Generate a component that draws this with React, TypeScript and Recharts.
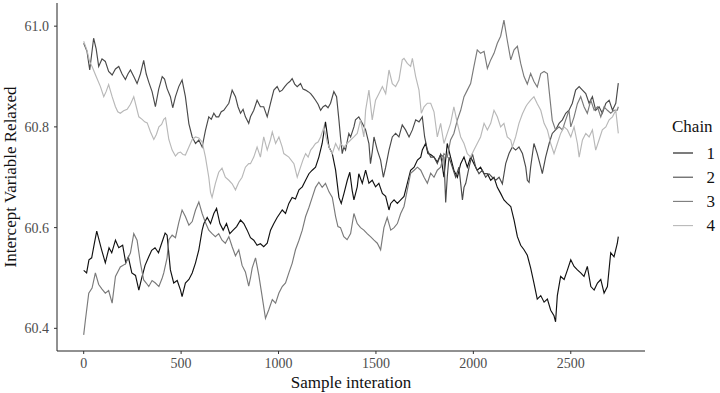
import React from "react";
import { LineChart, Line, XAxis, YAxis } from "recharts";

// [iteration, value] pairs
const chain1: [number, number][] = [
  [0,60.515],[15,60.51],[27,60.536],[41,60.54],[55,60.569],[67,60.593],[79,60.575],[92,60.556],[111,60.53],[130,60.56],
  [144,60.55],[163,60.575],[180,60.56],[200,60.565],[216,60.53],[229,60.542],[247,60.51],[266,60.505],[283,60.476],[298,60.5],
  [315,60.525],[334,60.542],[349,60.555],[366,60.56],[384,60.55],[401,60.57],[418,60.589],[428,60.585],[445,60.516],[462,60.49],
  [480,60.495],[497,60.476],[505,60.463],[522,60.49],[540,60.497],[557,60.51],[574,60.53],[591,60.556],[608,60.595],[617,60.608],
  [634,60.62],[651,60.608],[668,60.628],[682,60.638],[699,60.608],[716,60.595],[733,60.608],[750,60.588],[767,60.595],[785,60.602],
  [805,60.615],[822,60.608],[839,60.595],[856,60.58],[873,60.575],[890,60.565],[907,60.568],[924,60.562],[942,60.569],[959,60.595],
  [976,60.608],[993,60.62],[1019,60.635],[1036,60.628],[1053,60.648],[1070,60.66],[1087,60.657],[1105,60.675],[1122,60.681],[1139,60.694],
  [1156,60.707],[1173,60.714],[1190,60.72],[1207,60.74],[1224,60.767],[1241,60.81],[1259,60.76],[1276,60.747],[1293,60.714],[1310,60.66],
  [1322,60.648],[1336,60.668],[1353,60.694],[1366,60.71],[1378,60.674],[1387,60.655],[1404,60.681],[1412,60.707],[1430,60.688],[1447,60.714],
  [1464,60.688],[1481,60.694],[1498,60.681],[1515,60.688],[1533,60.668],[1550,60.662],[1567,60.635],[1576,60.648],[1593,60.655],[1610,60.648],
  [1627,60.655],[1644,60.662],[1661,60.688],[1678,60.714],[1696,60.72],[1713,60.734],[1730,60.74],[1738,60.754],[1755,60.767],[1767,60.747],
  [1781,60.745],[1798,60.74],[1815,60.73],[1832,60.745],[1849,60.7],[1866,60.767],[1883,60.74],[1900,60.714],[1918,60.7],[1935,60.727],
  [1952,60.74],[1969,60.72],[1986,60.74],[2003,60.727],[2020,60.714],[2037,60.72],[2055,60.707],[2072,60.707],[2089,60.694],[2106,60.7],
  [2123,60.68],[2140,60.668],[2157,60.655],[2174,60.648],[2192,60.642],[2209,60.615],[2226,60.582],[2243,60.565],[2260,60.556],[2277,60.545],
  [2294,60.52],[2311,60.49],[2328,60.458],[2346,60.465],[2363,60.452],[2380,60.458],[2397,60.436],[2414,60.425],[2422,60.413],[2431,60.465],
  [2448,60.503],[2466,60.497],[2483,60.516],[2500,60.536],[2517,60.523],[2534,60.516],[2551,60.51],[2568,60.503],[2585,60.523],[2603,60.483],
  [2620,60.476],[2637,60.49],[2654,60.497],[2671,60.47],[2688,60.483],[2705,60.55],[2722,60.542],[2739,60.569],[2744,60.582]
];

const chain2: [number, number][] = [
  [0,60.966],[17,60.95],[31,60.913],[51,60.976],[64,60.955],[77,60.92],[94,60.935],[111,60.93],[128,60.91],[146,60.903],
  [163,60.915],[180,60.92],[197,60.905],[214,60.894],[227,60.905],[240,60.913],[257,60.9],[274,60.886],[291,60.905],[308,60.932],
  [321,60.905],[334,60.889],[351,60.87],[368,60.84],[385,60.875],[403,60.9],[415,60.895],[428,60.876],[445,60.86],[457,60.838],
  [471,60.86],[488,60.88],[505,60.893],[522,60.86],[540,60.806],[557,60.78],[574,60.767],[591,60.774],[608,60.76],[625,60.793],
  [642,60.82],[655,60.815],[668,60.827],[680,60.82],[693,60.82],[706,60.83],[719,60.833],[732,60.84],[745,60.847],[762,60.873],
  [779,60.86],[792,60.84],[805,60.827],[818,60.835],[830,60.82],[847,60.807],[856,60.82],[873,60.833],[890,60.853],[907,60.84],
  [924,60.84],[942,60.82],[959,60.847],[976,60.873],[993,60.88],[1006,60.87],[1019,60.873],[1032,60.88],[1045,60.886],[1058,60.89],
  [1070,60.896],[1083,60.885],[1096,60.88],[1113,60.886],[1126,60.875],[1139,60.873],[1152,60.87],[1165,60.866],[1177,60.86],[1190,60.853],
  [1203,60.845],[1216,60.833],[1229,60.84],[1241,60.843],[1254,60.838],[1267,60.847],[1284,60.87],[1298,60.86],[1310,60.814],[1318,60.78],
  [1327,60.747],[1335,60.76],[1344,60.754],[1352,60.77],[1361,60.787],[1370,60.78],[1387,60.8],[1395,60.814],[1412,60.82],[1430,60.807],
  [1447,60.794],[1464,60.767],[1472,60.727],[1481,60.75],[1490,60.78],[1507,60.754],[1524,60.734],[1538,60.7],[1550,60.72],[1567,60.754],
  [1584,60.78],[1601,60.787],[1618,60.78],[1635,60.804],[1652,60.794],[1670,60.78],[1687,60.794],[1704,60.814],[1721,60.81],[1738,60.82],
  [1750,60.78],[1764,60.754],[1781,60.74],[1798,60.74],[1815,60.727],[1832,60.745],[1849,60.74],[1858,60.65],[1866,60.7],[1875,60.74],
  [1892,60.72],[1909,60.7],[1926,60.72],[1944,60.655],[1952,60.68],[1961,60.688],[1978,60.72],[1995,60.747],[2012,60.72],[2029,60.707],
  [2046,60.714],[2063,60.7],[2080,60.707],[2097,60.7],[2115,60.694],[2132,60.7],[2149,60.687],[2166,60.727],[2183,60.747],[2200,60.76],
  [2217,60.754],[2234,60.76],[2252,60.747],[2269,60.72],[2277,60.694],[2286,60.69],[2294,60.72],[2311,60.767],[2328,60.747],[2346,60.72],
  [2354,60.707],[2371,60.74],[2389,60.767],[2405,60.787],[2422,60.794],[2440,60.807],[2457,60.814],[2474,60.827],[2491,60.833],[2508,60.847],
  [2525,60.873],[2543,60.88],[2560,60.873],[2577,60.866],[2594,60.847],[2611,60.86],[2628,60.833],[2645,60.84],[2662,60.827],[2680,60.847],
  [2697,60.853],[2714,60.833],[2731,60.847],[2744,60.887]
];

const chain3: [number, number][] = [
  [0,60.387],[9,60.417],[26,60.47],[43,60.48],[60,60.51],[77,60.487],[94,60.478],[111,60.47],[128,60.475],[146,60.45],
  [163,60.503],[188,60.522],[214,60.528],[240,60.55],[257,60.588],[274,60.575],[291,60.53],[308,60.496],[321,60.49],[334,60.483],
  [351,60.495],[368,60.49],[386,60.483],[403,60.5],[411,60.51],[428,60.54],[437,60.576],[454,60.585],[471,60.58],[488,60.61],
  [505,60.635],[522,60.622],[540,60.605],[557,60.612],[574,60.635],[591,60.651],[608,60.628],[625,60.61],[642,60.595],[659,60.588],
  [676,60.582],[693,60.588],[710,60.575],[727,60.569],[745,60.582],[762,60.562],[779,60.544],[796,60.556],[813,60.525],[830,60.512],
  [847,60.484],[856,60.5],[865,60.52],[882,60.54],[899,60.505],[916,60.463],[933,60.42],[950,60.437],[968,60.457],[985,60.45],
  [1002,60.47],[1019,60.483],[1036,60.49],[1053,60.51],[1070,60.529],[1087,60.556],[1105,60.575],[1122,60.595],[1139,60.622],[1156,60.64],
  [1173,60.66],[1190,60.68],[1207,60.69],[1224,60.68],[1241,60.688],[1259,60.671],[1276,60.66],[1293,60.622],[1305,60.602],[1318,60.6],
  [1335,60.582],[1352,60.576],[1370,60.588],[1387,60.628],[1404,60.608],[1421,60.6],[1438,60.595],[1455,60.588],[1472,60.582],[1490,60.575],
  [1507,60.569],[1524,60.556],[1541,60.6],[1558,60.62],[1576,60.595],[1593,60.6],[1610,60.608],[1627,60.628],[1644,60.642],[1661,60.675],
  [1678,60.708],[1696,60.714],[1713,60.72],[1730,60.714],[1747,60.7],[1764,60.688],[1781,60.708],[1798,60.7],[1815,60.714],[1832,60.72],
  [1849,60.747],[1866,60.74],[1883,60.774],[1900,60.787],[1918,60.814],[1935,60.833],[1952,60.86],[1969,60.873],[1986,60.886],[2003,60.92],
  [2020,60.953],[2037,60.946],[2055,60.95],[2072,60.916],[2089,60.933],[2106,60.946],[2123,60.966],[2140,60.98],[2157,61.012],[2174,60.972],
  [2192,60.933],[2209,60.953],[2226,60.96],[2243,60.926],[2260,60.9],[2277,60.885],[2294,60.906],[2311,60.89],[2328,60.879],[2346,60.906],
  [2363,60.91],[2380,60.906],[2389,60.872],[2405,60.813],[2422,60.794],[2440,60.8],[2457,60.794],[2474,60.814],[2491,60.833],[2500,60.8],
  [2517,60.82],[2534,60.846],[2551,60.86],[2568,60.84],[2585,60.827],[2603,60.853],[2620,60.833],[2637,60.84],[2654,60.82],[2671,60.84],
  [2688,60.833],[2705,60.827],[2722,60.833],[2739,60.833],[2744,60.84]
];

const chain4: [number, number][] = [
  [0,60.97],[17,60.952],[30,60.93],[43,60.92],[64,60.9],[86,60.88],[103,60.86],[115,60.87],[128,60.884],[146,60.86],
  [163,60.84],[175,60.83],[188,60.827],[205,60.832],[223,60.835],[240,60.845],[257,60.86],[270,60.84],[283,60.82],[300,60.815],
  [313,60.81],[326,60.808],[343,60.79],[360,60.775],[373,60.785],[386,60.8],[400,60.805],[411,60.815],[420,60.818],[437,60.775],
  [454,60.754],[471,60.742],[484,60.748],[497,60.75],[510,60.745],[522,60.744],[540,60.76],[557,60.775],[574,60.78],[591,60.778],
  [608,60.77],[625,60.74],[642,60.7],[651,60.67],[659,60.66],[676,60.688],[693,60.71],[710,60.718],[727,60.7],[745,60.694],
  [762,60.687],[779,60.675],[796,60.69],[813,60.7],[830,60.72],[847,60.727],[856,60.727],[873,60.74],[890,60.76],[907,60.74],
  [924,60.78],[942,60.754],[959,60.775],[968,60.79],[985,60.767],[1002,60.78],[1019,60.76],[1027,60.747],[1053,60.74],[1079,60.727],
  [1096,60.7],[1113,60.72],[1126,60.735],[1139,60.747],[1152,60.74],[1165,60.754],[1177,60.76],[1190,60.767],[1203,60.77],[1216,60.78],
  [1233,60.8],[1250,60.77],[1264,60.755],[1276,60.747],[1293,60.767],[1310,60.754],[1318,60.767],[1336,60.76],[1352,60.767],[1370,60.774],
  [1387,60.78],[1404,60.787],[1421,60.814],[1438,60.78],[1447,60.833],[1464,60.873],[1481,60.814],[1498,60.853],[1515,60.866],[1533,60.88],
  [1550,60.866],[1567,60.913],[1584,60.886],[1601,60.88],[1618,60.893],[1635,60.933],[1644,60.936],[1661,60.926],[1678,60.92],[1687,60.936],
  [1704,60.9],[1721,60.873],[1733,60.827],[1747,60.84],[1764,60.847],[1781,60.847],[1798,60.83],[1815,60.78],[1832,60.807],[1849,60.767],
  [1866,60.787],[1883,60.807],[1900,60.84],[1918,60.807],[1935,60.78],[1952,60.767],[1969,60.747],[1986,60.74],[2003,60.754],[2020,60.767],
  [2037,60.78],[2055,60.807],[2072,60.794],[2089,60.807],[2106,60.833],[2123,60.82],[2140,60.8],[2157,60.807],[2174,60.78],[2192,60.774],
  [2200,60.76],[2217,60.78],[2234,60.807],[2252,60.826],[2269,60.84],[2277,60.845],[2294,60.853],[2311,60.86],[2328,60.846],[2346,60.833],
  [2363,60.807],[2380,60.794],[2397,60.767],[2414,60.747],[2431,60.767],[2448,60.787],[2466,60.8],[2483,60.794],[2500,60.78],[2517,60.8],
  [2534,60.767],[2543,60.74],[2560,60.774],[2577,60.787],[2594,60.78],[2611,60.794],[2628,60.754],[2645,60.774],[2662,60.794],[2680,60.8],
  [2697,60.814],[2714,60.82],[2731,60.833],[2744,60.787]
];

const chainNames = ["1", "2", "3", "4"];
const chainColors = ["#111111", "#4a4a4a", "#7a7a7a", "#b8b8b8"];
const xTicks = [0, 500, 1000, 1500, 2000, 2500];
const yTicks = [60.4, 60.6, 60.8, 61.0];
const xTitle = "Sample interation";
const yTitle = "Intercept Variable Relaxed";
const legendTitle = "Chain";

const FONT = "Liberation Serif, Times New Roman, serif";

const toRows = (pairs: [number, number][]) => pairs.map(([iter, v]) => ({ iter, v }));
const series = [chain1, chain2, chain3, chain4].map(toRows);

const textStyle = { fontFamily: FONT };

export default function App() {
  return (
    <div style={{ position: "absolute", left: 0, top: 0, width: 720, height: 393, background: "#fff", fontFamily: FONT }}>
      <LineChart width={720} height={393} margin={{ top: 3, right: 75, bottom: 0, left: 0 }}>
        <XAxis
          dataKey="iter"
          type="number"
          domain={[-137, 2881]}
          ticks={xTicks}
          allowDataOverflow
          height={42}
          tickSize={3}
          tickMargin={4}
          stroke="#222"
          tickLine={{ stroke: "#333" }}
          tick={{ fill: "#4d4d4d", fontSize: 14, fontFamily: FONT }}
        />
        <YAxis
          type="number"
          domain={[60.355, 61.046]}
          ticks={yTicks}
          allowDataOverflow
          width={57}
          tickSize={3}
          tickMargin={5}
          stroke="#222"
          tickLine={{ stroke: "#333" }}
          tickFormatter={(v: number) => v.toFixed(1)}
          tick={{ fill: "#4d4d4d", fontSize: 14, fontFamily: FONT }}
        />
        {series.map((rows, i) => (
          <Line
            key={chainNames[i]}
            data={rows}
            dataKey="v"
            type="linear"
            stroke={chainColors[i]}
            strokeWidth={1.15}
            dot={false}
            activeDot={false}
            isAnimationActive={false}
          />
        ))}
      </LineChart>
      <svg width={720} height={393} style={{ position: "absolute", left: 0, top: 0, pointerEvents: "none" }}>
        <text x={351} y={387.5} textAnchor="middle" fontSize={17} fill="#111" style={textStyle}>{xTitle}</text>
        <text transform="translate(15.5,177) rotate(-90)" textAnchor="middle" fontSize={17} fill="#111" style={textStyle}>{yTitle}</text>
        <text x={672} y={131.5} fontSize={17} fill="#111" style={textStyle}>{legendTitle}</text>
        {chainNames.map((name, i) => {
          const y = 153 + i * 24.2;
          return (
            <g key={name}>
              <line x1={673} x2={693} y1={y} y2={y} stroke={chainColors[i]} strokeWidth={1.1} />
              <text x={706.5} y={y + 5.5} fontSize={17} fill="#111" style={textStyle}>{name}</text>
            </g>
          );
        })}
      </svg>
    </div>
  );
}
